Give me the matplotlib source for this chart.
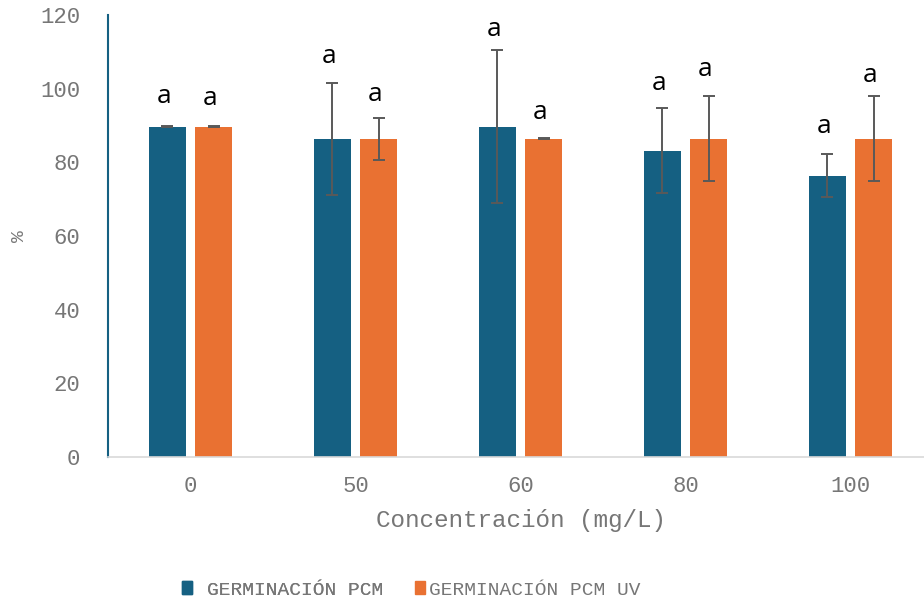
import matplotlib
matplotlib.use("Agg")
import matplotlib.pyplot as plt
import numpy as np
from matplotlib.patches import Patch

# datos
concentraciones = ["0", "50", "60", "80", "100"]
pcm = [89.7, 86.4, 89.7, 83.2, 76.4]
pcm_err = [0.1, 15.2, 20.7, 11.5, 5.8]
pcm_uv = [89.7, 86.4, 86.4, 86.4, 86.4]
pcm_uv_err = [0.1, 5.7, 0.1, 11.6, 11.6]
letras_pcm = ["a", "a", "a", "a", "a"]
letras_uv = ["a", "a", "a", "a", "a"]
# altura (en %) donde se apoya cada letra
altura_pcm = [96.1, 106.9, 114.3, 99.6, 88.0]
altura_uv = [95.6, 96.7, 91.8, 103.4, 101.8]

azul = "#156082"
naranja = "#E97132"
gris = "#595959"
gris_txt = "#767676"
mono = "Liberation Mono"

fig = plt.figure(figsize=(9.24, 6.03), dpi=100)
ax = fig.add_axes([108 / 924, 146 / 603, 825 / 924, 442 / 603])

x = np.arange(len(concentraciones))
ancho = 0.224
desp = 0.141

err_kw = dict(ecolor=gris, elinewidth=1.4, capsize=4.3, capthick=1.4)
ax.bar(x - desp, pcm, ancho, color=azul, yerr=pcm_err, error_kw=err_kw,
       label="GERMINACIÓN PCM", zorder=2)
ax.bar(x + desp, pcm_uv, ancho, color=naranja, yerr=pcm_uv_err, error_kw=err_kw,
       label="GERMINACIÓN PCM UV", zorder=2)

# letras de significancia
for i in range(len(x)):
    ax.text(x[i] - desp - 0.02, altura_pcm[i], letras_pcm[i], ha="center",
            va="baseline", fontsize=19, family="Open Sans")
    ax.text(x[i] + desp - 0.02, altura_uv[i], letras_uv[i], ha="center",
            va="baseline", fontsize=19, family="Open Sans")

ax.set_xlim(-0.5, len(x) - 0.5)
ax.set_ylim(0, 120)
ax.set_yticks(range(0, 121, 20))
ax.set_xticks(x)
ax.set_xticklabels(concentraciones)

for lab in ax.get_xticklabels() + ax.get_yticklabels():
    lab.set_family(mono)
    lab.set_fontsize(16)
    lab.set_color(gris_txt)
ax.tick_params(axis="y", length=0, pad=20)
ax.tick_params(axis="x", length=0, pad=14)

ax.spines["top"].set_visible(False)
ax.spines["right"].set_visible(False)
ax.spines["left"].set_color(azul)
ax.spines["left"].set_linewidth(1.5)
ax.spines["bottom"].set_color("#d9d9d9")
ax.spines["bottom"].set_linewidth(1.2)

ax.set_xlabel("Concentración (mg/L)", family=mono, fontsize=17.5, color=gris_txt, labelpad=8)
fig.text(20 / 924, 1 - 236 / 603, "%", rotation=90, family=mono, fontsize=14,
         color=gris_txt, ha="center", va="center")

# leyenda: dos entradas separadas como en el original
h1 = [Patch(color=azul, label="GERMINACIÓN PCM")]
h2 = [Patch(color=naranja, label="GERMINACIÓN PCM UV")]
leg_kw = dict(loc="center left", frameon=False, borderpad=0, borderaxespad=0,
              handlelength=0.52, handleheight=0.62,
              prop={"family": mono, "size": 14}, labelcolor=gris_txt)
leg1 = fig.legend(handles=h1, bbox_to_anchor=(182 / 924, 1 - 590 / 603),
                  handletextpad=0.77, **leg_kw)
fig.add_artist(leg1)
fig.legend(handles=h2, bbox_to_anchor=(415 / 924, 1 - 590 / 603),
           handletextpad=0.2, **leg_kw)

fig.savefig("out.png", dpi=100)
